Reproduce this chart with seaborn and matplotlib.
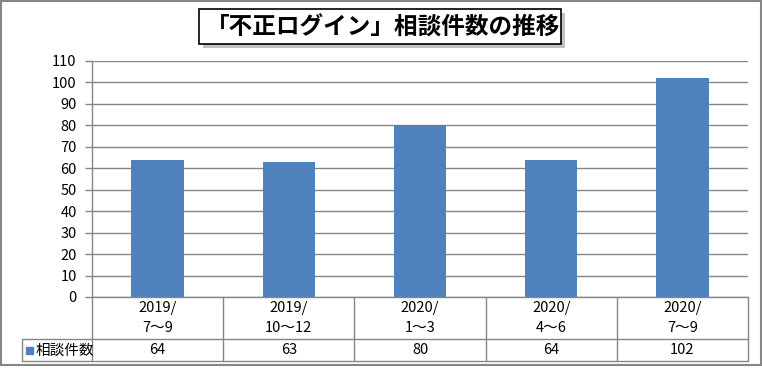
import matplotlib
matplotlib.use("Agg")
import matplotlib.pyplot as plt
import matplotlib.patches as mpatches
import matplotlib.transforms as mtrans
from matplotlib.lines import Line2D
import seaborn as sns
import pandas as pd

categories = ["2019/\n7～9", "2019/\n10～12", "2020/\n1～3", "2020/\n4～6", "2020/\n7～9"]
values = [64, 63, 80, 64, 102]
series_name = "相談件数"
title = "「不正ログイン」相談件数の推移"
yticks = list(range(0, 111, 10))

sns.set_theme(style="white")
plt.rcParams["font.family"] = ["Noto Sans CJK JP", "DejaVu Sans"]

W, H = 762, 369
fig = plt.figure(figsize=(W / 100, H / 100), dpi=100)

def fx(px):
    return px / W

def fy(py):
    return 1 - py / H

L, R, T, B = 92, 748, 61, 297
ax = fig.add_axes([fx(L), fy(B), fx(R) - fx(L), fy(T) - fy(B)])

df = pd.DataFrame({"cat": categories, "val": values})
sns.barplot(data=df, x="cat", y="val", color="#4F81BD", width=0.4, ax=ax,
            saturation=1, edgecolor="none")
ax.set_xlim(-0.5, len(categories) - 0.5)
ax.set_ylim(0, 110)
ax.set_yticks(yticks)
ax.set_yticklabels([str(t) for t in yticks], fontsize=10.5, color="black")
ax.set_xticks([])
ax.set_xlabel("")
ax.set_ylabel("")
gray = "#868686"
ax.yaxis.grid(True, color=gray, linewidth=1)
ax.set_axisbelow(True)
for s in ["top", "right"]:
    ax.spines[s].set_visible(False)
for s in ["left", "bottom"]:
    ax.spines[s].set_color(gray)
    ax.spines[s].set_linewidth(1)
ax.tick_params(axis="y", which="both", left=True, length=5, width=1, color=gray, pad=6)

# data table beneath the axis
row1_bot, row2_bot, tab_left = 339, 361, 22
trans = mtrans.blended_transform_factory(ax.transData, fig.transFigure)
for i in range(len(categories) + 1):
    xv = i - 0.5
    ax.add_line(Line2D([xv, xv], [fy(B), fy(row2_bot)], transform=trans, color=gray,
                       linewidth=1, clip_on=False))
for yy in [row1_bot, row2_bot]:
    fig.add_artist(Line2D([fx(tab_left), fx(R)], [fy(yy), fy(yy)], color=gray, linewidth=1))
fig.add_artist(Line2D([fx(tab_left), fx(tab_left)], [fy(row1_bot), fy(row2_bot)], color=gray, linewidth=1))

for i, (c, v) in enumerate(zip(categories, values)):
    ax.text(i, fy((B + row1_bot) / 2), c, transform=trans, ha="center", va="center",
            fontsize=10.5, linespacing=1.5, color="black")
    ax.text(i, fy((row1_bot + row2_bot) / 2), str(v), transform=trans, ha="center",
            va="center", fontsize=10.5, color="black")

# legend key in table
fig.add_artist(mpatches.Rectangle((fx(26), fy(354)), fx(7), 7 / H,
                                  color="#4F81BD", transform=fig.transFigure))
fig.text(fx(36), fy(350.5), series_name, ha="left", va="center", fontsize=10.5, color="black")

# outer border
fig.add_artist(mpatches.Rectangle((fx(1), fy(365)), fx(760), 364 / H, fill=False,
                                  edgecolor=gray, linewidth=1.5, transform=fig.transFigure))

# title box with shadow
tx0, ty0, tx1, ty1 = 199, 9, 561, 44
fig.add_artist(mpatches.Rectangle((fx(tx0 + 4), fy(ty1 + 4)), fx(tx1 - tx0), (ty1 - ty0) / H,
                                  facecolor="#9a9a9a", edgecolor="none", alpha=0.6,
                                  transform=fig.transFigure))
fig.add_artist(mpatches.Rectangle((fx(tx0), fy(ty1)), fx(tx1 - tx0), (ty1 - ty0) / H,
                                  facecolor="white", edgecolor="black", linewidth=1.2,
                                  transform=fig.transFigure))
fig.text(fx((tx0 + tx1) / 2 + 3), fy((ty0 + ty1) / 2 + 1), title, ha="center", va="center",
         fontsize=17, fontweight="bold", color="black")

fig.savefig("out.png", dpi=100)
